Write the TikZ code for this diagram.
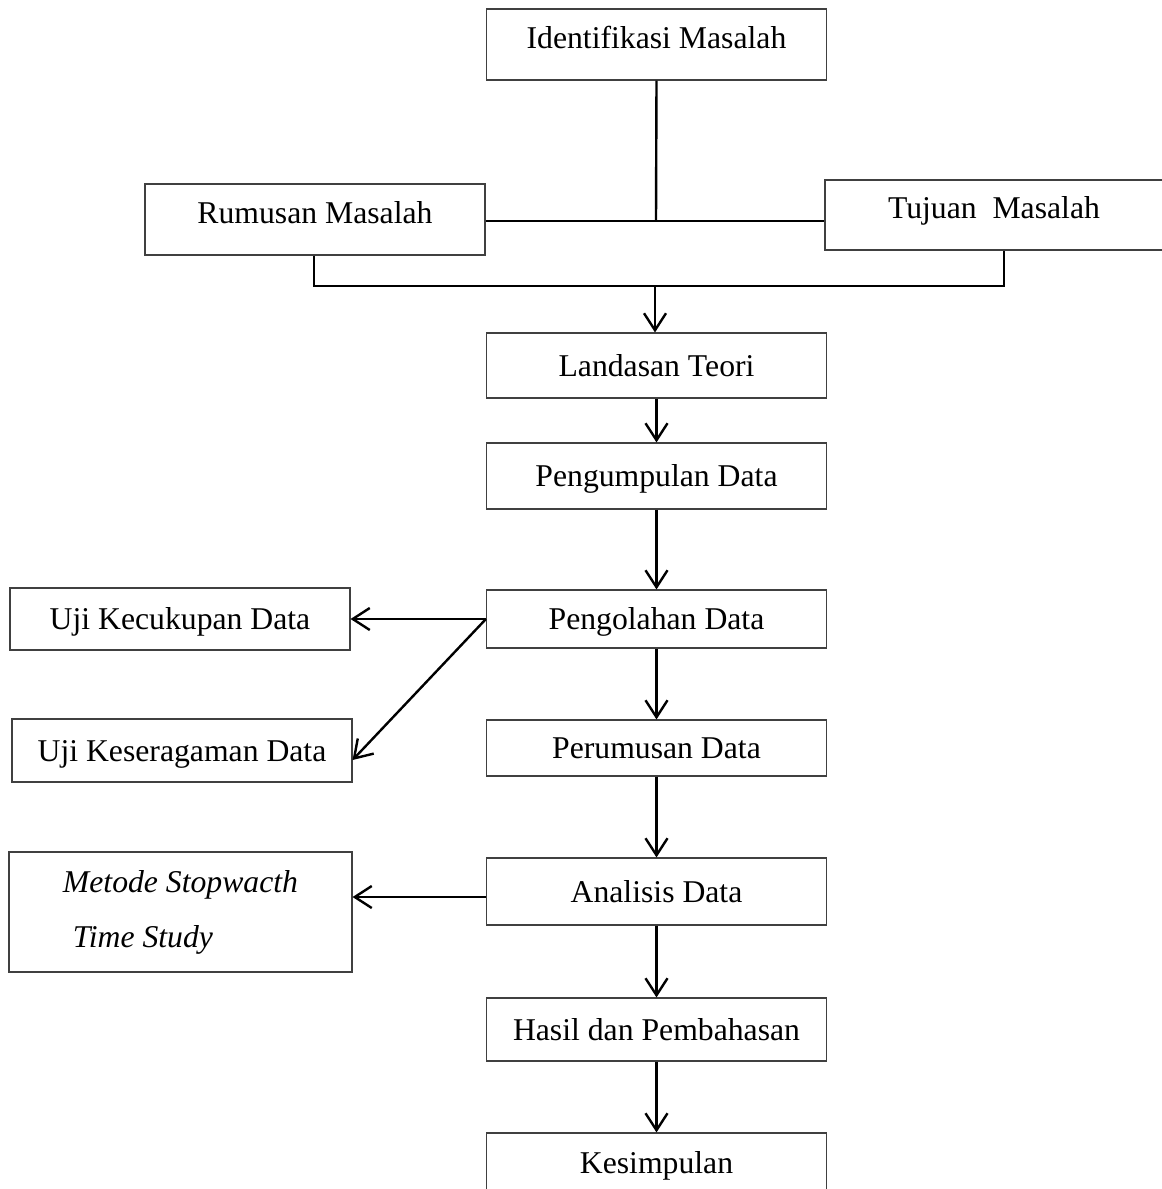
\documentclass[tikz,border=0pt]{standalone}
\usepackage{fontspec}
\setmainfont{Liberation Serif}
\usetikzlibrary{arrows.meta}
\begin{document}
\begin{tikzpicture}[x=0.5pt, y=-0.5pt, line join=miter,
    kotak/.style={draw=black!75, line width=0.55pt, inner sep=0pt, minimum width=170pt,
      text height=10.5pt, text depth=0pt, font=\fontsize{15.85}{19}\selectfont},
    atas/.style={text depth=7pt},
    garis/.style={line width=1.2pt, draw=black},
    panah/.style={garis, -{Straight Barb[length=8.5pt, width=11pt, line width=1.2pt]}}]
  \useasboundingbox (0,0) rectangle (1162,1189);
  % Identifikasi, rumusan dan tujuan
  \node[kotak, atas, minimum height=35.5pt] (identifikasi) at (656.5,44.5) {Identifikasi Masalah};
  \node[kotak, atas, minimum height=35.5pt] (rumusan) at (315,219.5) {Rumusan Masalah};
  \node[kotak, atas, minimum width=169pt, minimum height=35pt] (tujuan) at (994,215) {Tujuan\ \ Masalah};
  \coordinate (tengah) at (656,221);
  \coordinate (gabung) at (655,286);
  \draw[garis] (identifikasi.south) -- (tengah);
  \draw[garis] (rumusan.east |- tengah) -- (tujuan.west |- tengah);
  \draw[garis] ([xshift=-0.5pt]rumusan.south) |- (gabung) -| ([xshift=5pt]tujuan.south);
  % Alur utama
  \node[kotak, minimum height=32.5pt] (landasan) at (656.5,365.5) {Landasan Teori};
  \node[kotak, minimum height=33pt] (kumpul) at (656.5,476) {Pengumpulan Data};
  \node[kotak, minimum height=29pt] (olah) at (656.5,619) {Pengolahan Data};
  \node[kotak, minimum height=28pt] (rumus) at (656.5,748) {Perumusan Data};
  \node[kotak, minimum height=33.5pt] (analisis) at (656.5,891.5) {Analisis Data};
  \node[kotak, minimum height=31.5pt] (hasil) at (656.5,1029.5) {Hasil dan Pembahasan};
  \node[kotak, minimum height=30pt] (simpul) at (656.5,1163) {Kesimpulan};
  \draw[panah] (gabung) -- (landasan.north -| gabung);
  \draw[panah] (landasan) -- (kumpul);
  \draw[panah] (kumpul) -- (olah);
  \draw[panah] (olah) -- (rumus);
  \draw[panah] (rumus) -- (analisis);
  \draw[panah] (analisis) -- (hasil);
  \draw[panah] (hasil) -- (simpul);
  % Kotak samping
  \node[kotak, minimum height=31pt] (cukup) at (180,619) {Uji Kecukupan Data};
  \node[kotak, minimum height=31.5pt] (seragam) at (182,750.5) {Uji Keseragaman Data};
  \node[kotak, minimum width=171.5pt, minimum height=60pt, text height=, text depth=, align=left,
    font=\fontsize{15.85}{19}\selectfont\itshape] (metode) at (180.5,912)
    {Metode Stopwacth\\[8.5pt]\hspace*{5pt}Time Study};
  \draw[panah] (olah.west) -- (cukup.east);
  \draw[panah] (olah.west) -- ([yshift=-4.75pt]seragam.east);
  \draw[panah] ([yshift=-2.75pt]analisis.west) -- ([yshift=-2.75pt]analisis.west -| metode.east);
\end{tikzpicture}
\end{document}
